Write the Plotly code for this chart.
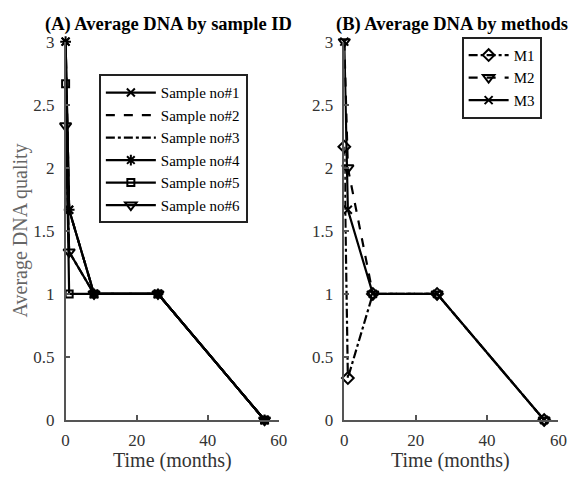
import plotly.graph_objects as go

time = [0, 1, 8, 26, 56]
sample_names = ["Sample no#1", "Sample no#2", "Sample no#3", "Sample no#4", "Sample no#5", "Sample no#6"]
sample_values = [
    [3.0, 1.667, 1, 1, 0],
    [3.0, 1.667, 1, 1, 0],
    [2.333, 1.333, 1, 1, 0],
    [3.0, 1.667, 1, 1, 0],
    [2.667, 1.0, 1, 1, 0],
    [2.333, 1.333, 1, 1, 0],
]
method_names = ["M1", "M2", "M3"]
method_values = [
    [2.167, 0.333, 1, 1, 0],
    [3.0, 2.0, 1, 1, 0],
    [3.0, 1.667, 1, 1, 0],
]
x_ticks = [0, 20, 40, 60]
y_ticks = [0, 0.5, 1, 1.5, 2, 2.5, 3]

sample_styles = [
    ("solid", "x-thin-open", 8),
    ("dash", "circle", 0),
    ("dashdot", "circle", 0),
    ("solid", "asterisk-open", 9),
    ("solid", "square-open", 7),
    ("solid", "triangle-down-open", 10),
]
method_styles = [
    ("dashdot", "diamond-open", 9),
    ("dash", "triangle-down-open", 10),
    ("solid", "x-thin-open", 8),
]

FONT = "Liberation Serif, Times New Roman, serif"
fig = go.Figure()

for name, vals, (dash, sym, msize) in zip(sample_names, sample_values, sample_styles):
    has_marker = msize > 0
    fig.add_trace(go.Scatter(
        x=time, y=vals, name=name, xaxis="x", yaxis="y", legend="legend",
        mode="lines+markers" if has_marker else "lines",
        line=dict(color="black", width=2.2, dash=dash),
        marker=dict(symbol=sym, size=max(msize, 1), color="black", line=dict(color="black", width=2)),
        cliponaxis=False,
    ))

for name, vals, (dash, sym, msize) in zip(method_names, method_values, method_styles):
    fig.add_trace(go.Scatter(
        x=time, y=vals, name=name, xaxis="x2", yaxis="y2", legend="legend2",
        mode="lines+markers",
        line=dict(color="black", width=2.2, dash=dash),
        marker=dict(symbol=sym, size=msize, color="black", line=dict(color="black", width=2)),
        cliponaxis=False,
    ))

axis_common = dict(
    showgrid=False, zeroline=False, showline=True, linecolor="#555555", linewidth=1.5,
    ticks="inside", ticklen=5, tickwidth=1.5, tickcolor="#555555",
    tickfont=dict(family=FONT, size=17, color="#333333"),
    mirror=False,
)

fig.update_layout(
    width=587, height=479,
    margin=dict(l=0, r=0, t=0, b=0),
    paper_bgcolor="white", plot_bgcolor="white",
    showlegend=True,
    xaxis=dict(domain=[63/587, 281/587], range=[0, 60], tickvals=x_ticks, anchor="y",
               ticklabelstandoff=4, **axis_common),
    yaxis=dict(domain=[51/479, 445/479], range=[0, 3], tickvals=y_ticks, anchor="x",
               ticklabelstandoff=6, **axis_common),
    xaxis2=dict(domain=[348/587, 567/587], range=[0, 60], tickvals=x_ticks, anchor="y2",
                ticklabelstandoff=4, **axis_common),
    yaxis2=dict(domain=[51/479, 445/479], range=[0, 3], tickvals=y_ticks, anchor="x2",
                ticklabelstandoff=6, **axis_common),
    legend=dict(
        x=97/587, y=1 - 68/479, xanchor="left", yanchor="top",
        bgcolor="white", bordercolor="#222222", borderwidth=2,
        font=dict(family=FONT, size=15, color="black"),
        itemwidth=50, tracegroupgap=0,
    ),
    legend2=dict(
        x=468/587, y=1 - 29/479, xanchor="left", yanchor="top",
        bgcolor="white", bordercolor="#222222", borderwidth=2,
        font=dict(family=FONT, size=15, color="black"),
        itemwidth=40, tracegroupgap=0,
    ),
    annotations=[
        dict(text="<b>(A) Average DNA by sample ID</b>", x=168/587, y=1 - 16/479, xref="paper", yref="paper",
             showarrow=False, font=dict(family=FONT, size=18.5, color="black"), xanchor="center", yanchor="middle"),
        dict(text="<b>(B) Average DNA by methods</b>", x=458/587, y=1 - 16/479, xref="paper", yref="paper",
             showarrow=False, font=dict(family=FONT, size=18.5, color="black"), xanchor="center", yanchor="middle"),
        dict(text="Time (months)", x=172/587, y=1 - 470/479, xref="paper", yref="paper",
             showarrow=False, font=dict(family=FONT, size=20, color="#333333"), xanchor="center", yanchor="middle"),
        dict(text="Time (months)", x=457/587, y=1 - 470/479, xref="paper", yref="paper",
             showarrow=False, font=dict(family=FONT, size=20, color="#333333"), xanchor="center", yanchor="middle"),
        dict(text="Average DNA quality", x=17/587, y=1 - 231/479, xref="paper", yref="paper", textangle=-90,
             showarrow=False, font=dict(family=FONT, size=20, color="#666666"), xanchor="center", yanchor="middle"),
    ],
)

fig.write_html("out.html")
